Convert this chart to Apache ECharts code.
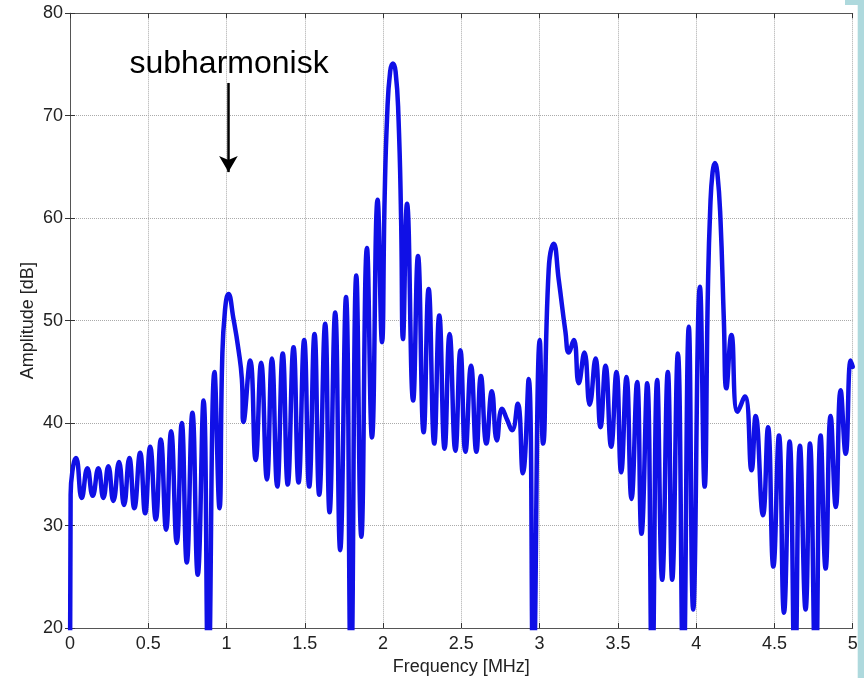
<!DOCTYPE html>
<html>
<head>
<meta charset="utf-8">
<script src="https://cdn.jsdelivr.net/npm/echarts@6/dist/echarts.min.js"></script>
<style>
html,body{margin:0;padding:0;background:#fff;}
#chart{width:864px;height:681px;}
</style>
</head>
<body>
<div id="chart"></div>
<script>
// Frequency [MHz] of read points (peaks and troughs of the spectrum)
var frequencyMHz = [
  0, 0.004, 0.02, 0.038, 0.075, 0.111, 0.145, 0.181, 0.213, 0.245,
  0.277, 0.313, 0.345, 0.379, 0.411, 0.448, 0.480, 0.512, 0.548, 0.580,
  0.614, 0.646, 0.682, 0.714, 0.746, 0.782, 0.816, 0.853, 0.884, 0.923,
  0.955, 0.972, 0.990, 1.012, 1.044, 1.076, 1.098, 1.108, 1.151, 1.186,
  1.221, 1.258, 1.290, 1.324, 1.359, 1.391, 1.428, 1.460, 1.496, 1.528,
  1.562, 1.592, 1.630, 1.658, 1.694, 1.726, 1.763, 1.795, 1.829, 1.861,
  1.897, 1.929, 1.965, 1.993, 2.010, 2.026, 2.045, 2.063, 2.080, 2.098,
  2.115, 2.127, 2.153, 2.192, 2.223, 2.259, 2.291, 2.327, 2.359, 2.393,
  2.425, 2.462, 2.494, 2.526, 2.562, 2.596, 2.625, 2.660, 2.695, 2.727,
  2.760, 2.793, 2.824, 2.860, 2.893, 2.930, 2.960, 3.001, 3.022, 3.058,
  3.090, 3.122, 3.165, 3.186, 3.218, 3.250, 3.286, 3.320, 3.357, 3.389,
  3.421, 3.457, 3.491, 3.521, 3.555, 3.587, 3.623, 3.651, 3.687, 3.719,
  3.751, 3.783, 3.819, 3.847, 3.883, 3.918, 3.953, 3.981, 4.024, 4.054,
  4.075, 4.090, 4.105, 4.120, 4.135, 4.155, 4.177, 4.193, 4.225, 4.265,
  4.311, 4.354, 4.380, 4.427, 4.459, 4.493, 4.529, 4.561, 4.597, 4.631,
  4.663, 4.699, 4.727, 4.763, 4.795, 4.827, 4.859, 4.892, 4.923, 4.955,
  4.987, 5.0
];
// Amplitude [dB] at those frequencies
var amplitudeDb = [
  15, 33.0, 35.8, 36.6, 32.7, 35.6, 32.9, 35.6, 32.7, 35.8,
  32.4, 36.2, 32.0, 36.6, 31.7, 37.1, 31.2, 37.7, 30.6, 38.4,
  29.6, 39.2, 28.3, 40.0, 26.4, 41.0, 25.2, 42.2, 15, 45.0,
  31.7, 46, 51, 52.6, 50.2, 47.2, 44.3, 40.1, 46.1, 36.4,
  45.9, 34.5, 46.3, 33.8, 46.8, 34.0, 47.4, 34.2, 48.1, 33.8,
  48.7, 33.0, 49.7, 31.3, 50.8, 27.6, 52.3, 15, 54.4, 28.9,
  57.1, 38.6, 61.8, 47.9, 62, 70, 74.3, 75.1, 74.3, 70,
  60, 48.2, 61.4, 42.2, 56.3, 39.1, 53.1, 38.0, 50.5, 37.5,
  48.7, 37.3, 47.1, 37.2, 45.6, 37.2, 44.6, 38.0, 43.1, 38.3,
  41.4, 40.3, 39.3, 41.9, 35.1, 44.3, 15, 48.1, 38.0, 55,
  57.5, 54.0, 48.9, 46.9, 48.1, 43.9, 46.9, 41.8, 46.3, 39.6,
  45.6, 37.7, 45.0, 35.2, 44.5, 32.6, 44.0, 29.2, 43.9, 15,
  44.2, 24.7, 45.0, 24.7, 46.8, 15, 49.4, 21.8, 53.3, 33.8,
  53, 61, 64.5, 65.4, 64.5, 60, 50, 43.4, 48.6, 41.1,
  42.6, 35.4, 40.7, 31.0, 39.6, 26.0, 38.8, 21.5, 38.2, 15,
  37.8, 21.8, 38.0, 15, 38.8, 25.8, 40.7, 31.8, 43.2, 37.0,
  46.1, 45.5
];
var xTicks = [0, 0.5, 1, 1.5, 2, 2.5, 3, 3.5, 4, 4.5, 5];
var yTicks = [20, 30, 40, 50, 60, 70, 80];
var annotationText = 'subharmonisk';
var annotationPoint = [1.016, 75.0];
var arrowFrom = [1.012, 73.2];
var arrowTo = [1.012, 64.5];

var points = frequencyMHz.map(function (f, i) { return [f, amplitudeDb[i]]; });

var FONT = 'Liberation Sans, Arial, Helvetica, sans-serif';
var chart = echarts.init(document.getElementById('chart'), null, {renderer: 'canvas'});

var gridLine = {show: true, lineStyle: {type: 'dotted', color: '#aaaaaa', width: 1}};
var axisLine = {show: true, lineStyle: {color: '#555', width: 1}};
var tick = {show: true, inside: true, length: 5, lineStyle: {color: '#333'}};

chart.setOption({
  animation: false,
  backgroundColor: '#ffffff',
  graphic: [
    {type: 'rect', z: -10, shape: {x: 845, y: 0, width: 19, height: 678}, style: {fill: '#aed9dd'}},
    {type: 'rect', z: -9, shape: {x: 845, y: 5, width: 12.7, height: 676}, style: {fill: '#ffffff'}}
  ],
  grid: {left: 70, right: 11.3, top: 13.3, bottom: 51, containLabel: false},
  xAxis: [{
    type: 'value', min: xTicks[0], max: xTicks[xTicks.length - 1], interval: 0.5,
    position: 'bottom',
    name: 'Frequency [MHz]', nameLocation: 'middle', nameGap: 30, nameMoveOverlap: false,
    nameTextStyle: {fontFamily: FONT, fontSize: 18, color: '#222'},
    axisLine: axisLine, axisTick: tick, splitLine: gridLine,
    axisLabel: {fontFamily: FONT, fontSize: 18, color: '#222', margin: 7}
  }, {
    type: 'value', min: xTicks[0], max: xTicks[xTicks.length - 1], interval: 0.5,
    position: 'top', axisLine: axisLine, axisTick: tick, splitLine: {show: false},
    axisLabel: {show: false}
  }],
  yAxis: [{
    type: 'value', min: yTicks[0], max: yTicks[yTicks.length - 1], interval: 10,
    position: 'left',
    name: 'Amplitude [dB]', nameLocation: 'middle', nameGap: 33, nameMoveOverlap: false,
    nameTextStyle: {fontFamily: FONT, fontSize: 18, color: '#222'},
    axisLine: axisLine, axisTick: tick, splitLine: gridLine,
    axisLabel: {fontFamily: FONT, fontSize: 18, color: '#222', margin: 7}
  }, {
    type: 'value', min: yTicks[0], max: yTicks[yTicks.length - 1], interval: 10,
    position: 'right', axisLine: axisLine, axisTick: tick, splitLine: {show: false},
    axisLabel: {show: false}
  }],
  series: [{
    type: 'line',
    data: points,
    showSymbol: false,
    smooth: 0.5,
    clip: true,
    lineStyle: {color: '#1010e6', width: 4.5, join: 'round', cap: 'round'},
    markLine: {
      silent: true,
      symbol: ['none', 'arrow'],
      symbolSize: [14, 16],
      lineStyle: {color: '#000', width: 2.5, type: 'solid'},
      label: {show: false},
      data: [[{coord: arrowFrom}, {coord: arrowTo}]]
    },
    markPoint: {
      silent: true,
      symbol: 'circle', symbolSize: 0,
      label: {show: true, position: 'inside', formatter: annotationText,
        fontFamily: FONT, fontSize: 32, color: '#000'},
      data: [{coord: annotationPoint}]
    }
  }]
});
</script>
</body>
</html>
